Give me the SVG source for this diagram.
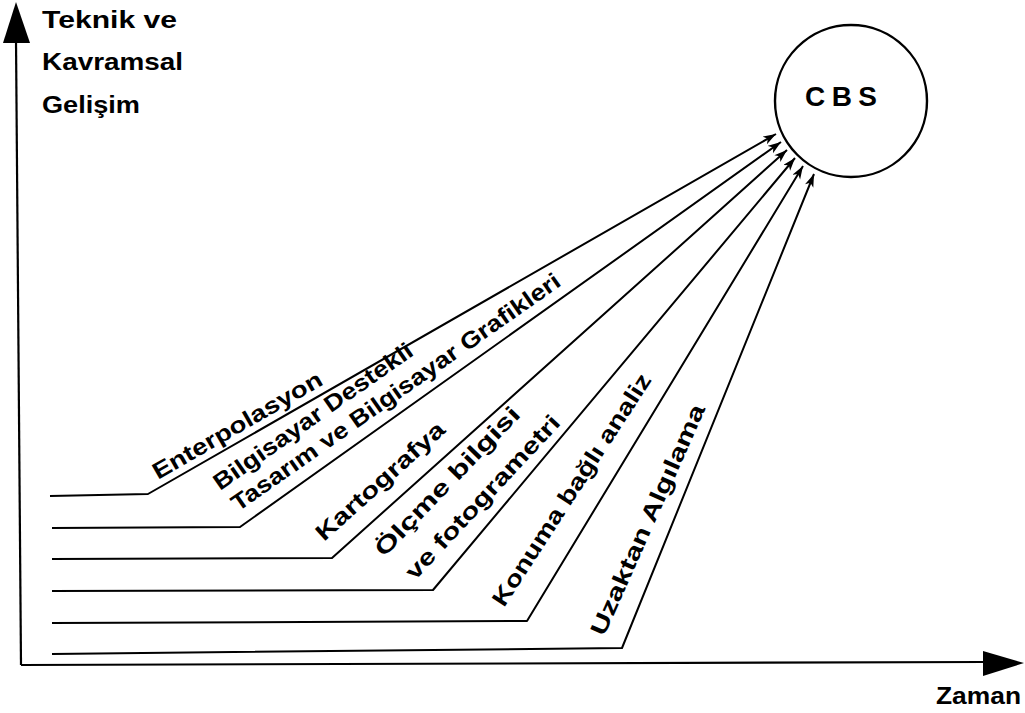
<svg xmlns="http://www.w3.org/2000/svg" width="1025" height="713" viewBox="0 0 1025 713">
<style>
.ax{stroke:#000;stroke-width:2.2;fill:none}
.ln{stroke:#000;stroke-width:2;fill:none;stroke-linejoin:round}
.hd{fill:#000}
.t{font-family:"Liberation Sans",Arial,sans-serif;font-weight:bold;fill:#000}
.ax-t{font-size:24px}
.lb{font-size:23px}
</style>
<defs>
<marker id="arr" markerUnits="userSpaceOnUse" markerWidth="14" markerHeight="10" refX="13" refY="4.5" orient="auto">
<path d="M0,0 L13,4.5 L0,9 L3.5,4.5 z" fill="#000"/>
</marker>
</defs>
<rect width="1025" height="713" fill="#fff"/>
<g id="axes">
<line class="ax" x1="16" y1="40" x2="21" y2="665"/>
<polygon class="hd" points="16,2 30,43 3,43"/>
<line class="ax" x1="21" y1="665" x2="985" y2="662"/>
<polygon class="hd" points="1024,663 983,651 983,676"/>
<text class="t ax-t" x="42" y="28" textLength="135" lengthAdjust="spacingAndGlyphs">Teknik  ve</text>
<text class="t ax-t" x="42" y="70" textLength="141" lengthAdjust="spacingAndGlyphs">Kavramsal</text>
<text class="t ax-t" x="42" y="113" textLength="98" lengthAdjust="spacingAndGlyphs">Gelişim</text>
<text class="t ax-t" x="936" y="704" textLength="85" lengthAdjust="spacingAndGlyphs">Zaman</text>
</g>
<g id="cbs">
<circle cx="851" cy="101" r="76" fill="none" stroke="#000" stroke-width="2.4"/>
<text class="t" x="805" y="106" font-size="28" textLength="72" lengthAdjust="spacing">CBS</text>
</g>
<g id="connectors">
<polyline class="ln" points="50,496 148,494 776,134" marker-end="url(#arr)"/>
<polyline class="ln" points="52,528 240,527 781,142" marker-end="url(#arr)"/>
<polyline class="ln" points="52,559 332,558 787,150" marker-end="url(#arr)"/>
<polyline class="ln" points="52,591 433,590 795,158" marker-end="url(#arr)"/>
<polyline class="ln" points="52,623 527,621 803,166" marker-end="url(#arr)"/>
<polyline class="ln" points="52,654 622,648 814,174" marker-end="url(#arr)"/>
</g>
<g id="label-enterpolasyon">
<text class="t lb" transform="translate(158,480) rotate(-30)" textLength="192" lengthAdjust="spacingAndGlyphs">Enterpolasyon</text>
</g>
<g id="label-bilgisayar">
<text class="t lb" transform="translate(220,491) rotate(-35)" textLength="238" lengthAdjust="spacingAndGlyphs">Bilgisayar Destekli</text>
<text class="t lb" transform="translate(238,512) rotate(-35)" textLength="396" lengthAdjust="spacingAndGlyphs">Tasarım ve Bilgisayar Grafikleri</text>
</g>
<g id="label-kartografya">
<text class="t lb" transform="translate(324,542) rotate(-42)" textLength="165" lengthAdjust="spacingAndGlyphs">Kartografya</text>
</g>
<g id="label-olcme">
<text class="t lb" transform="translate(384,558) rotate(-46)" textLength="198" lengthAdjust="spacingAndGlyphs">Ölçme  bilgisi</text>
<text class="t lb" transform="translate(415,581) rotate(-47)" textLength="215" lengthAdjust="spacingAndGlyphs">ve fotogrametri</text>
</g>
<g id="label-konuma">
<text class="t lb" transform="translate(504,608) rotate(-57)" textLength="272" lengthAdjust="spacingAndGlyphs">Konuma  bağlı  analiz</text>
</g>
<g id="label-uzaktan">
<text class="t lb" transform="translate(604,637) rotate(-66)" textLength="250" lengthAdjust="spacingAndGlyphs">Uzaktan  Algılama</text>
</g>
</svg>
